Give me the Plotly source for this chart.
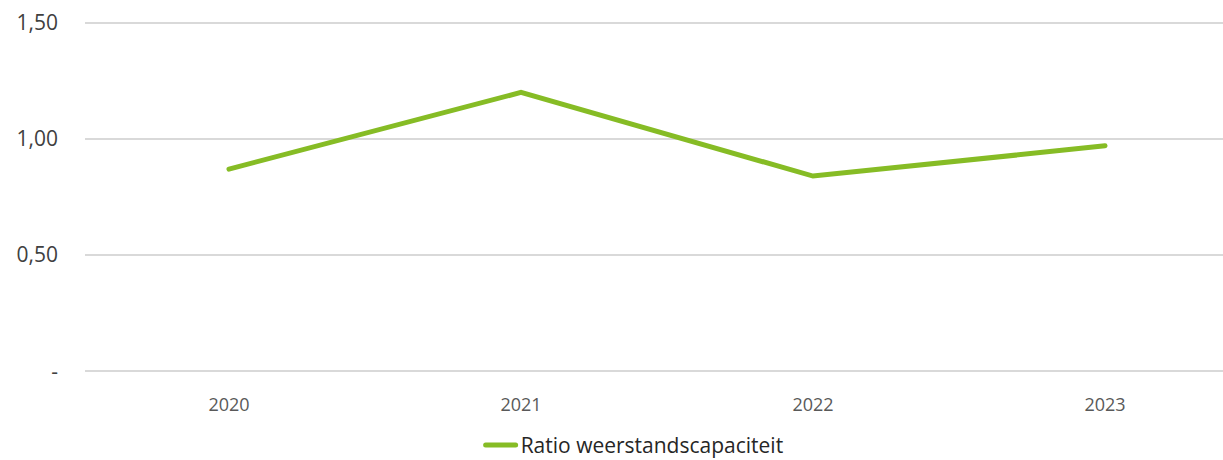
import plotly.graph_objects as go

years = ["2020", "2021", "2022", "2023"]
ratio = [0.87, 1.20, 0.84, 0.97]
series_name = "Ratio weerstandscapaciteit"
ytick_vals = [0, 0.5, 1.0, 1.5]
ytick_text = ["-", "0,50", "1,00", "1,50"]

fig = go.Figure()
fig.add_trace(go.Scatter(
    x=years, y=ratio, mode="lines", name=series_name,
    line=dict(color="#86BC25", width=5),
))

fig.update_layout(
    width=1223, height=460,
    margin=dict(l=85, r=0, t=18, b=84, autoexpand=False),
    paper_bgcolor="white", plot_bgcolor="white",
    font=dict(family="Open Sans", color="#595959"),
    showlegend=True,
    legend=dict(orientation="h", xref="container", yref="container",
                x=0.393, xanchor="left", y=0.032, yanchor="middle",
                font=dict(size=21, color="#262626"), bgcolor="rgba(0,0,0,0)"),
    xaxis=dict(type="category", range=[-0.493, 3.404], showgrid=False,
               showline=False, zeroline=False, tickfont=dict(size=18, color="#595959"),
               ticks="", ticklabelstandoff=16),
    yaxis=dict(range=[-0.02, 1.52], tickvals=ytick_vals, ticktext=ytick_text,
               showgrid=True, gridcolor="#D9D9D9", gridwidth=2, zeroline=False,
               showline=False, tickfont=dict(size=21, color="#404040"),
               ticklabelstandoff=26),
)
fig.write_html(
    "out.html",
    config={"displayModeBar": False},
    post_script=(
        "document.body.style.margin='0';document.body.style.overflow='hidden';"
        "document.querySelectorAll('.js-line').forEach(function(p){p.style.strokeLinecap='round';});"
    ),
)
